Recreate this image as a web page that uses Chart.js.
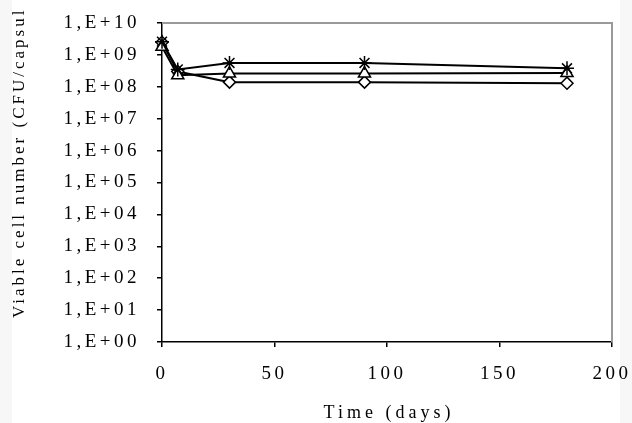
<!DOCTYPE html>
<html>
<head>
<meta charset="utf-8">
<script src="https://cdn.jsdelivr.net/npm/chart.js@4"></script>
<style>
  html, body { margin: 0; padding: 0; background: #fff; }
  #wrap { width: 632px; height: 423px; }
  canvas { display: block; }
</style>
</head>
<body>
<div id="wrap"><canvas id="c" width="632" height="423"></canvas></div>
<script>
// Sampling days
const days = [0, 7, 30, 90, 180];
// Viable counts (CFU per capsule) for each formulation
const seriesStar = [2.6e9, 3.5e8, 5.6e8, 5.6e8, 3.8e8];
const seriesTriangle = [1.8e9, 2.3e8, 2.6e8, 2.6e8, 2.7e8];
const seriesDiamond = [2.5e9, 3.0e8, 1.4e8, 1.4e8, 1.3e8];
// Axis ticks
const xTicks = [0, 50, 100, 150, 200];
const yExponents = [0, 1, 2, 3, 4, 5, 6, 7, 8, 9, 10];
const xTitle = 'Time (days)';
const yTitle = 'Viable cell number (CFU/capsule)';

const toPoints = vals => vals.map((v, i) => ({ x: days[i], y: v }));
const sciLabel = v => '1,E+' + String(Math.round(Math.log10(v))).padStart(2, '0');

const SERIF = '"Liberation Serif", "Times New Roman", serif';

// letter spacing for the axis labels (reset whenever the canvas is resized)
const spacing = {
  id: 'spacing',
  beforeUpdate(chart) { chart.ctx.letterSpacing = '3.5px'; },
  beforeDraw(chart) {
    const ctx = chart.ctx;
    ctx.letterSpacing = '3.5px';
    ctx.save();
    ctx.fillStyle = '#f7f7f7';
    ctx.fillRect(0, 0, chart.width, chart.height);
    ctx.fillStyle = '#ffffff';
    ctx.fillRect(12, 0, 608, chart.height);
    ctx.restore();
  }
};

// grey frame on the top and right of the plot area
const frame = {
  id: 'frame',
  beforeDatasetsDraw(chart) {
    const { ctx, chartArea: a } = chart;
    ctx.save();
    ctx.strokeStyle = '#9a9a9a';
    ctx.lineWidth = 2;
    ctx.beginPath();
    ctx.moveTo(a.left, a.top);
    ctx.lineTo(a.right, a.top);
    ctx.lineTo(a.right, a.bottom);
    ctx.stroke();
    ctx.restore();
  }
};

// axis titles
const titles = {
  id: 'titles',
  afterDraw(chart) {
    const { ctx, chartArea: a } = chart;
    ctx.save();
    ctx.fillStyle = '#000';
    ctx.font = '18px ' + SERIF;
    ctx.letterSpacing = '4px';
    ctx.textAlign = 'center';
    ctx.textBaseline = 'middle';
    ctx.fillText(xTitle, (a.left + a.right) / 2 + 2, 413);
    ctx.restore();

    ctx.save();
    ctx.beginPath();
    ctx.rect(0, 8, chart.width, chart.height - 8);
    ctx.clip();
    ctx.translate(20, 318);
    ctx.rotate(-Math.PI / 2);
    ctx.fillStyle = '#000';
    ctx.font = '17px ' + SERIF;
    ctx.letterSpacing = '3px';
    ctx.textAlign = 'left';
    ctx.textBaseline = 'middle';
    ctx.fillText(yTitle, 0, 0);
    ctx.restore();
  }
};

const common = {
  borderColor: '#000',
  borderWidth: 2,
  pointBorderColor: '#000',
  pointBorderWidth: 1.5,
  tension: 0,
  clip: false,
  fill: false
};

new Chart(document.getElementById('c'), {
  type: 'line',
  data: {
    datasets: [
      Object.assign({}, common, {
        label: 'Star',
        data: toPoints(seriesStar),
        pointStyle: 'star',
        pointRadius: 7,
        pointBackgroundColor: '#000'
      }),
      Object.assign({}, common, {
        label: 'Triangle',
        data: toPoints(seriesTriangle),
        pointStyle: 'triangle',
        pointRadius: 7,
        pointBackgroundColor: '#fff'
      }),
      Object.assign({}, common, {
        label: 'Diamond',
        data: toPoints(seriesDiamond),
        pointStyle: 'rectRot',
        pointRadius: 6,
        pointBackgroundColor: '#fff'
      })
    ]
  },
  options: {
    responsive: false,
    animation: false,
    devicePixelRatio: 1,
    layout: { padding: { left: 0, top: 23, right: 20, bottom: 0 } },
    plugins: {
      legend: { display: false },
      tooltip: { enabled: false }
    },
    scales: {
      x: {
        type: 'linear',
        min: 0,
        max: 200,
        afterBuildTicks(scale) { scale.ticks = xTicks.map(v => ({ value: v })); },
        afterFit(scale) {
          scale.height = 81;
          scale.paddingLeft = 0;
          scale.paddingRight = 0;
        },
        ticks: {
          color: '#000',
          font: { family: SERIF, size: 19 },
          padding: 16,
          maxRotation: 0,
          autoSkip: false
        },
        grid: { drawOnChartArea: false, drawTicks: true, tickLength: 5, color: '#000', lineWidth: 1.5 },
        border: { display: true, color: '#000', width: 1.5 }
      },
      y: {
        type: 'logarithmic',
        min: 1,
        max: 1e10,
        afterBuildTicks(scale) { scale.ticks = yExponents.map(e => ({ value: Math.pow(10, e) })); },
        afterFit(scale) {
          scale.width = 162;
          scale.paddingTop = 0;
          scale.paddingBottom = 0;
        },
        ticks: {
          color: '#000',
          font: { family: SERIF, size: 19 },
          padding: 17,
          autoSkip: false,
          callback: v => sciLabel(v)
        },
        grid: { drawOnChartArea: false, drawTicks: true, tickLength: 5, color: '#000', lineWidth: 1.5 },
        border: { display: true, color: '#000', width: 1.5 }
      }
    }
  },
  plugins: [spacing, frame, titles]
});
</script>
</body>
</html>
